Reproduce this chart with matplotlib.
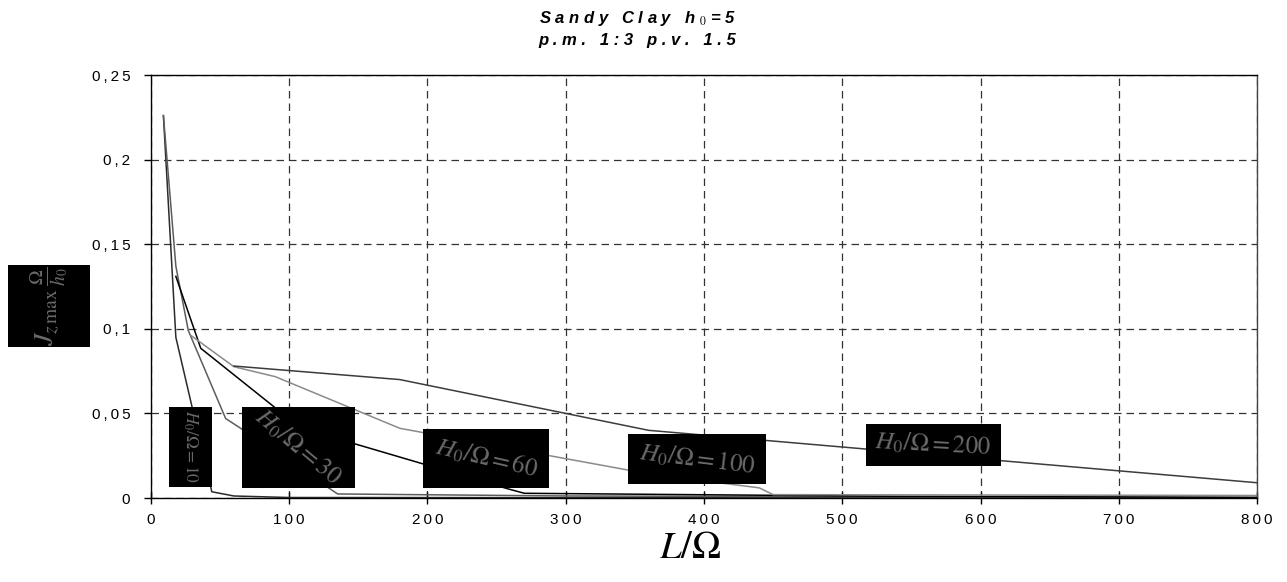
import matplotlib
matplotlib.use("Agg")
import matplotlib.pyplot as plt
from matplotlib.patches import Rectangle

plt.rcParams['font.family'] = ['Liberation Sans', 'DejaVu Sans']
plt.rcParams['mathtext.fontset'] = 'stix'

# curves, L/Omega vs J_zmax*Omega/h0, one per H0/Omega
x10 = [9, 18, 44, 60, 100, 800]
y10 = [0.226, 0.095, 0.0037, 0.0012, 0.0003, 0.0]
x30 = [9, 18, 27, 54, 66, 129, 135, 300, 800]
y30 = [0.226, 0.137, 0.099, 0.047, 0.0406, 0.0057, 0.0024, 0.0012, 0.0002]
x60 = [18, 36, 108, 257, 270, 540, 800]
y60 = [0.131, 0.0885, 0.0415, 0.0057, 0.0028, 0.0010, 0.0004]
x100 = [29, 60, 90, 180, 360, 440, 450, 800]
y100 = [0.096, 0.0776, 0.0717, 0.0412, 0.0143, 0.006, 0.002, 0.0015]
x200 = [60, 180, 360, 900]
y200 = [0.078, 0.070, 0.040, 0.002]

xticks = [0, 100, 200, 300, 400, 500, 600, 700, 800]
yticks = [0, 0.05, 0.1, 0.15, 0.2, 0.25]
ytick_labels = ["0", "0,05", "0,1", "0,15", "0,2", "0,25"]

# label boxes: text, (x0, y0, x1, y1) in data units, rotation, size
labels = [
    (r"$H_0/\Omega=10$", (13, 0.0065, 44, 0.054), -90, 12.5),
    (r"$H_0/\Omega=30$", (66, 0.006, 147.5, 0.054), -40, 18),
    (r"$H_0/\Omega=60$", (197, 0.006, 288, 0.041), -13, 18),
    (r"$H_0/\Omega=100$", (345, 0.008, 445, 0.038), -7, 18),
    (r"$H_0/\Omega=200$", (517, 0.019, 615, 0.044), -3, 18),
]


def spaced(s, sep="\u2009"):
    return sep.join(s)


fig = plt.figure(figsize=(12.87, 5.82), dpi=100)
ax = fig.add_axes([0.1173, 0.1443, 0.8594, 0.7268])

ax.plot(x10, y10, color="#2b2b2b", lw=1.1)
ax.plot(x30, y30, color="#5c5c5c", lw=1.1)
ax.plot(x60, y60, color="#000000", lw=1.1)
ax.plot(x100, y100, color="#8a8a8a", lw=1.1)
ax.plot(x200, y200, color="#3c3c3c", lw=1.1)

ax.set_xlim(0, 800)
ax.set_ylim(0, 0.25)
ax.set_xticks(xticks)
ax.set_xticklabels([spaced(str(v)) for v in xticks], fontsize=11)
ax.set_yticks(yticks)
ax.set_yticklabels([spaced(s) for s in ytick_labels], fontsize=11)
ax.tick_params(axis="x", direction="inout", length=9, width=1, pad=6)
ax.tick_params(axis="y", direction="out", length=5, width=1, pad=10)
ax.grid(True, color="#333333", linestyle=(0, (6, 4)), lw=0.9)
ax.set_axisbelow(True)
for side in ["left", "bottom", "top", "right"]:
    ax.spines[side].set_linewidth(1.0)
    ax.spines[side].set_color("black")
ax.spines["right"].set_color("#444444")

for txt, (x0, y0, x1, y1), rot, fs in labels:
    ax.add_patch(Rectangle((x0, y0), x1 - x0, y1 - y0, facecolor="black",
                           edgecolor="none", zorder=5))
    ax.text((x0 + x1) / 2, (y0 + y1) / 2, txt, color="#6a6a6a", fontsize=fs,
            rotation=rot, ha="center", va="center", zorder=6)

# y label box
fig.patches.append(Rectangle((0.0062, 0.4038), 0.0637, 0.141, facecolor="black",
                             edgecolor="none", transform=fig.transFigure, figure=fig))
fig.text(0.038, 0.474, r"$J_{z\,\max}\,\frac{\Omega}{h_0}$", color="#6a6a6a",
         fontsize=20, rotation=90, ha="center", va="center")

fig.text(0.536, 0.058, r"$L/\Omega$", fontsize=28, ha="center", va="center")

fig.text(0.495, 0.968, spaced("Sandy", " ") + "   " + spaced("Clay", " ") + "   h $_{0}$ " + spaced("=5", " "),
         fontsize=12, fontweight="bold", fontstyle="italic", ha="center", va="center")
fig.text(0.495, 0.930, spaced("p.m.", " ") + "   " + spaced("1:3", " ") + "   " + spaced("p.v.", " ") + "   " + spaced("1.5", " "),
         fontsize=12, fontweight="bold", fontstyle="italic", ha="center", va="center")

fig.savefig("out.png", dpi=100)
